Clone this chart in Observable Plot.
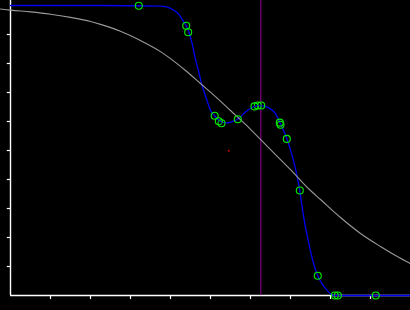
<!DOCTYPE html>
<html>
<head>
<meta charset="utf-8">
<script src="https://cdn.jsdelivr.net/npm/d3@7"></script>
<script src="https://cdn.jsdelivr.net/npm/@observablehq/plot@0.6"></script>
<style>
  html, body { margin: 0; padding: 0; background: #000; }
  #chart svg { display: block; }
</style>
</head>
<body>
<div id="chart"></div>
<script>
// Observed sample points (green circles)
const obsX = [3.2075, 4.3925, 4.4425, 5.105, 5.2075, 5.275, 5.6825, 6.10, 6.1825, 6.2675, 6.7325, 6.75, 6.9075, 7.2325, 7.6825, 8.1075, 8.1825, 9.1325];
const obsY = [0.999, 0.930, 0.908, 0.620, 0.601, 0.594, 0.608, 0.652, 0.655, 0.655, 0.596, 0.589, 0.540, 0.362, 0.068, 0.0, 0.0, 0.0];

// Fitted (blue) curve
const fitX = [0, 2.25, 3.75, 3.90, 4.05, 4.20, 4.325, 4.39, 4.46, 4.54, 4.625, 4.71, 4.775, 4.83, 4.92, 5.00, 5.10, 5.25, 5.42, 5.58, 5.68, 5.92, 6.10, 6.25, 6.46, 6.625, 6.75, 6.91, 7.04, 7.17, 7.23, 7.33, 7.46, 7.58, 7.68, 7.79, 7.92, 8.00, 8.10, 10];
const fitY = [1.000, 1.000, 0.998, 0.995, 0.986, 0.971, 0.945, 0.931, 0.908, 0.869, 0.814, 0.769, 0.731, 0.707, 0.669, 0.638, 0.620, 0.601, 0.595, 0.601, 0.608, 0.638, 0.652, 0.655, 0.647, 0.627, 0.592, 0.540, 0.483, 0.408, 0.362, 0.270, 0.178, 0.109, 0.068, 0.040, 0.017, 0.006, 0.000, 0.000];

// Reference (gray) curve
const refX = [-0.25, 0, 0.5, 1, 1.5, 2, 2.25, 2.75, 3.25, 3.75, 4, 4.375, 4.75, 5.125, 5.5, 5.875, 6.25, 6.625, 7, 7.5, 7.75, 8.25, 8.75, 9.25, 9.625, 10];
const refY = [0.988, 0.984, 0.978, 0.970, 0.959, 0.945, 0.935, 0.911, 0.879, 0.841, 0.817, 0.776, 0.731, 0.686, 0.638, 0.590, 0.538, 0.486, 0.434, 0.362, 0.331, 0.269, 0.214, 0.169, 0.138, 0.110];

// Vertical marker and single red point
const markerX = [6.2575];
const redX = [5.4575];
const redY = [0.4989];

// Ticks
const xTicks = [1, 2, 3, 4, 5, 6, 7, 8, 9];
const yTicks = [0.1, 0.2, 0.3, 0.4, 0.5, 0.6, 0.7, 0.8, 0.9];

const obs = obsX.map((x, i) => ({x, y: obsY[i]}));
const fit = fitX.map((x, i) => ({x, y: fitY[i]}));
const ref = refX.map((x, i) => ({x, y: refY[i]}));
const red = redX.map((x, i) => ({x, y: redY[i]}));

const chart = Plot.plot({
  width: 410,
  height: 310,
  margin: 0,
  style: {background: "#000", overflow: "hidden"},
  x: {domain: [-0.25, 10], range: [0, 410], axis: null},
  y: {domain: [0, 1], range: [295, 5], axis: null},
  marks: [
    // axis spines
    Plot.ruleX([0], {y1: 0, y2: 1.02, stroke: "white", strokeWidth: 1.4}),
    Plot.ruleY([0], {x1: 0, x2: 10, stroke: "white", strokeWidth: 1.4}),
    // ticks
    Plot.ruleY(yTicks, {x1: -0.08, x2: 0, stroke: "white", strokeWidth: 1.2}),
    Plot.ruleX(xTicks, {y1: 0, y2: -0.0138, stroke: "white", strokeWidth: 1.2}),
    // purple vertical marker
    Plot.ruleX(markerX, {y1: 0, y2: 1.02, stroke: "#800080", strokeWidth: 1.2}),
    // fitted curve
    Plot.line(fit, {x: "x", y: "y", stroke: "#0000f0", strokeWidth: 1.3, curve: "monotone-x"}),
    // reference curve
    Plot.line(ref, {x: "x", y: "y", stroke: "#999999", strokeWidth: 1.1, curve: "monotone-x"}),
    // red point
    Plot.dot(red, {x: "x", y: "y", r: 1, fill: "#cc0000", stroke: "none"}),
    // observed circles
    Plot.dot(obs, {x: "x", y: "y", r: 3.5, stroke: "#00ee00", strokeWidth: 1.1, fill: "none"}),
    Plot.dot(obs, {x: "x", y: "y", r: 0.6, fill: "#0000aa", stroke: "none"})
  ]
});
document.getElementById("chart").appendChild(chart);
</script>
</body>
</html>
